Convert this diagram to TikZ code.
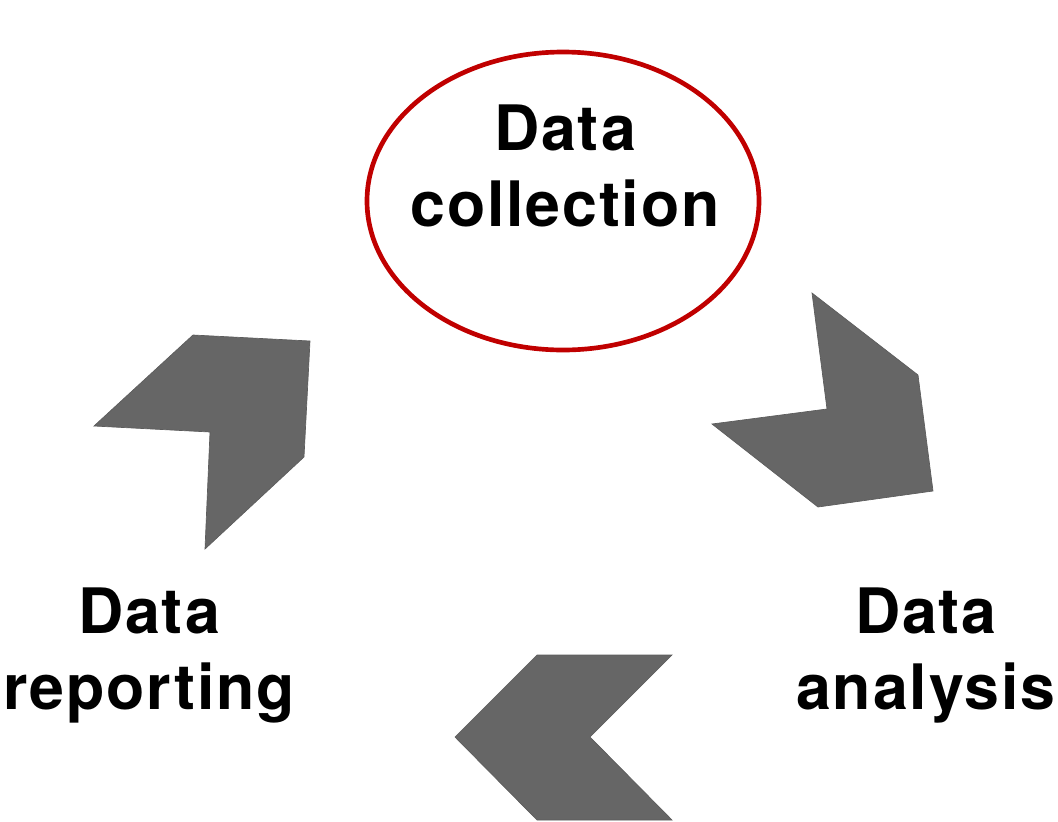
\documentclass[tikz,border=0pt]{standalone}
\usepackage{fontspec}
\setmainfont{TeX Gyre Heros}
\usepackage{tikz}
\usetikzlibrary{shapes}
\definecolor{darkred}{HTML}{C00000}
\definecolor{chevgray}{HTML}{666666}

\begin{document}
\begin{tikzpicture}[x=0.75pt,y=-0.75pt,
  chev/.style={fill=chevgray, draw=chevgray!90!black, line width=0.5pt, line join=miter},
  lbl/.style={align=center, inner sep=0pt, anchor=north,
    font=\fontsize{47}{57}\selectfont\bfseries\addfontfeature{LetterSpace=3}}]
\useasboundingbox (0,0) rectangle (1058,822);
\draw [darkred, line width=3.5pt] (563,201) ellipse [x radius=196, y radius=149];
\node [lbl] (collect) at (565,105) {Data\\collection};
\node [lbl] (analysis) at (926,588) {Data\\analysis};
\node [lbl] (report) at (149,588) {Data\\reporting};
% chevrons
\path [chev] (812,293) -- (918,375) -- (933,491) -- (818,507) -- (712,424) -- (827,409) -- cycle;
\path [chev] (537,655) -- (672,655) -- (590,737) -- (672,820) -- (537,820) -- (455,737) -- cycle;
\path [chev] (193,335) -- (310,341) -- (304,457) -- (205,549) -- (210,432) -- (94,426) -- cycle;
\end{tikzpicture}
\end{document}
